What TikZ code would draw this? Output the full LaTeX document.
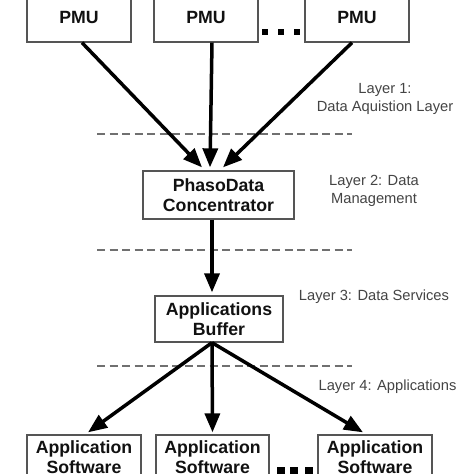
\documentclass[tikz,border=0pt]{standalone}
\usepackage{fontspec}
\setmainfont{Liberation Sans}
\usetikzlibrary{arrows.meta}
\definecolor{boxgray}{HTML}{555555}
\definecolor{dashgray}{HTML}{707070}
\definecolor{labelgray}{HTML}{444444}
\definecolor{textblack}{HTML}{111111}
\begin{document}
\begin{tikzpicture}[x=1pt,y=-1pt,
  box/.style={draw=boxgray, line width=1.3pt, align=center, inner sep=0pt,
    font=\bfseries\fontsize{17.7}{20}\selectfont, text=textblack},
  layerlabel/.style={align=center, inner sep=0pt,
    font=\fontsize{14.7}{18}\selectfont, text=labelgray},
  arr/.style={line width=3.5pt, -{Triangle[length=19pt,width=15pt]}},
  dashline/.style={draw=dashgray, line width=1.8pt, dash pattern=on 8pt off 4.5pt},
  dot/.style={fill=black}]
\useasboundingbox (0,0) rectangle (474,474);
\clip (0,0) rectangle (474,474);
\fill[white] (0,0) rectangle (474,474);
% PMU boxes
\node[box, minimum width=104pt, minimum height=50pt] (pmu1) at (79,17) {PMU};
\node[box, minimum width=104pt, minimum height=50pt] (pmu2) at (206,17) {PMU};
\node[box, minimum width=104pt, minimum height=50pt] (pmu3) at (357,17) {PMU};
\fill[dot] (262,29) rectangle (268,35);
\fill[dot] (277.5,29) rectangle (283.5,35);
\fill[dot] (293.5,29) rectangle (299.5,35);
% concentrator and buffer
\node[box, minimum width=151pt, minimum height=48pt] (pdc) at (218.5,195) {PhasoData\\Concentrator};
\node[box, minimum width=128pt, minimum height=46pt] (ab) at (219,319) {Applications\\Buffer};
% application boxes
\node[box, minimum width=114pt, minimum height=44pt] (app1) at (84,457) {Application\\Software};
\node[box, minimum width=113pt, minimum height=44pt] (app2) at (212.5,457) {Application\\Software};
\node[box, minimum width=114pt, minimum height=44pt] (app3) at (375,457) {Application\\Software};
\fill[dot] (277,467) rectangle (285,480);
\fill[dot] (290,467) rectangle (298,480);
\fill[dot] (305,467) rectangle (313,480);
% dashed layer separators
\draw[dashline] (97,134) -- (352,134);
\draw[dashline] (97,250) -- (352,250);
\draw[dashline] (97,366) -- (352,366);
% layer labels
\node[layerlabel] (l1) at (385,99) {Layer 1:\\Data Aquistion Layer};
\node[layerlabel] (l2) at (374,191) {Layer 2: Data\\Management};
\node[layerlabel] (l3) at (374,297) {Layer 3: Data Services};
\node[layerlabel] (l4) at (387.5,387) {Layer 4: Applications};
% arrows
\draw[arr] ([xshift=3pt]pmu1.south) -- ([xshift=-16.5pt,yshift=3pt]pdc.north);
\draw[arr] ([xshift=6pt]pmu2.south) -- ([xshift=-8.5pt,yshift=3pt]pdc.north);
\draw[arr] ([xshift=-5pt]pmu3.south) -- ([xshift=4.5pt,yshift=3pt]pdc.north);
\draw[arr] ([xshift=-6.5pt]pdc.south) -- ([xshift=-7pt,yshift=3pt]ab.north);
\draw[arr] ([xshift=-7pt]ab.south) -- ([xshift=4pt,yshift=2pt]app1.north);
\draw[arr] ([xshift=-7pt]ab.south) -- ([xshift=0pt,yshift=2pt]app2.north);
\draw[arr] ([xshift=-7pt]ab.south) -- ([xshift=-12pt,yshift=2pt]app3.north);
\end{tikzpicture}
\end{document}
